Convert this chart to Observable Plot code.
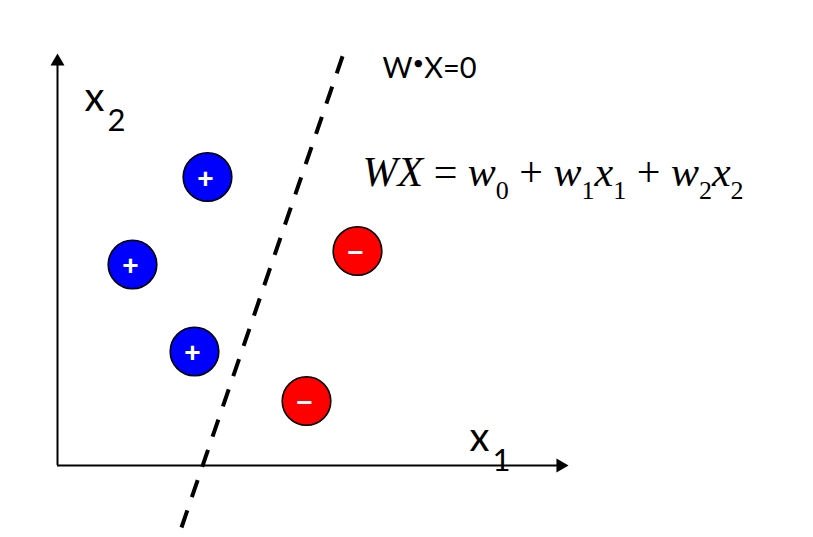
<!DOCTYPE html>
<html><head><meta charset="utf-8">
<script src="https://cdn.jsdelivr.net/npm/d3@7"></script>
<script src="https://cdn.jsdelivr.net/npm/@observablehq/plot@0.6"></script>
<style>html,body{margin:0;padding:0;background:#fff;overflow:hidden;} svg text{white-space:pre;}</style>
</head><body><div id="chart"></div>
<script>
// Sample points in feature space (x1, x2), measured from the axis origin
const pointX1 = [150, 75, 137, 300, 249];
const pointX2 = [288.5, 201, 114, 214.5, 64.5];
const pointClass = ["+", "+", "+", "\u2212", "\u2212"];
// Decision boundary W·X = 0 (two end points)
const boundaryX1 = [124, 286];
const boundaryX2 = [-62, 412];
// Axes: labels and arrow lengths
const axisLabels = ["x_1", "x_2"];
const axisLength = [511, 412];
// Annotations
const boundaryLabel = ["W^\u2022X=0"];
const equation = ["WX = w_0 + w_1x_1 + w_2x_2"];

const points = pointX1.map((v, i) => ({x1: v, x2: pointX2[i], cls: pointClass[i]}));
const boundary = boundaryX1.map((v, i) => ({x1: v, x2: boundaryX2[i]}));
const classColor = {"+": "#0000ff", "\u2212": "#ff0000"};

const chart = Plot.plot({
  width: 813,
  height: 537,
  margin: 0,
  x: {domain: [-57, 756], axis: null},
  y: {domain: [-72, 465], axis: null},
  style: {background: "#fff"},
  marks: [
    Plot.ruleY([0], {x1: 0, x2: axisLength[0] - 6, stroke: "#000", strokeWidth: 2}),
    Plot.ruleX([0], {y1: 0, y2: axisLength[1] - 6, stroke: "#000", strokeWidth: 2}),
    Plot.dot([axisLength[0]], {x: d => d, y: 0, symbol: "triangle", r: 5.2, fill: "#000", stroke: "none", rotate: 90, dx: -8}),
    Plot.dot([axisLength[1]], {x: 0, y: d => d, symbol: "triangle", r: 5.2, fill: "#000", stroke: "none", dy: 8}),
    Plot.line(boundary, {x: "x1", y: "x2", stroke: "#000", strokeWidth: 4, strokeDasharray: "18,14", strokeLinecap: "butt"}),
    Plot.dot(points, {x: "x1", y: "x2", r: 24.3, fill: d => classColor[d.cls], stroke: "#000", strokeWidth: 1.6}),
    Plot.text(points, {x: "x1", y: "x2", text: "cls", fill: "#fff", fontSize: 28, fontWeight: "bold", fontFamily: "Liberation Sans", dx: -2, dy: 2}),
    Plot.text([axisLabels[0]], {x: 412, y: 15, text: d => d, textAnchor: "start", lineAnchor: "bottom", fontSize: 40, fontFamily: "Lato", fill: "#000"}),
    Plot.text([axisLabels[1]], {x: 27, y: 355, text: d => d, textAnchor: "start", lineAnchor: "bottom", fontSize: 40, fontFamily: "Lato", fill: "#000"}),
    Plot.text(boundaryLabel, {x: 325, y: 388, text: d => d, textAnchor: "start", lineAnchor: "bottom", fontSize: 29, fontFamily: "Lato", fill: "#000"}),
    Plot.text(equation, {x: 305, y: 280, text: d => d, textAnchor: "start", lineAnchor: "bottom", fontSize: 42, fontFamily: "Liberation Serif", fill: "#000"})
  ]
});

function richify(t, opts) {
  const s = t.textContent;
  while (t.firstChild) t.removeChild(t.firstChild);
  let off = 0;
  for (let i = 0; i < s.length; i++) {
    let ch = s[i], mode = "n";
    if ((ch === "_" || ch === "^") && i + 1 < s.length) { mode = ch === "_" ? "sub" : "sup"; ch = s[++i]; }
    const target = mode === "sub" ? opts.subShift : mode === "sup" ? -opts.supShift : 0;
    const ts = document.createElementNS("http://www.w3.org/2000/svg", "tspan");
    ts.textContent = ch;
    if (target !== off) { ts.setAttribute("dy", target - off); off = target; }
    if (mode === "sub") { ts.setAttribute("font-size", opts.subSize); if (opts.subDx) ts.setAttribute("dx", opts.subDx); }
    if (mode === "sup") ts.setAttribute("font-size", opts.supSize);
    if (opts.italic && /[A-Za-z]/.test(ch)) ts.setAttribute("font-style", "italic");
    t.appendChild(ts);
  }
}
chart.querySelectorAll("text").forEach(t => {
  const s = t.textContent;
  if (axisLabels.includes(s)) richify(t, {subShift: 20, subSize: 31, subDx: 3});
  else if (boundaryLabel.includes(s)) richify(t, {supShift: 8, supSize: 20});
  else if (equation.includes(s)) richify(t, {subShift: 13, subSize: 26, italic: true});
});
document.getElementById("chart").appendChild(chart);
</script>
</body></html>
